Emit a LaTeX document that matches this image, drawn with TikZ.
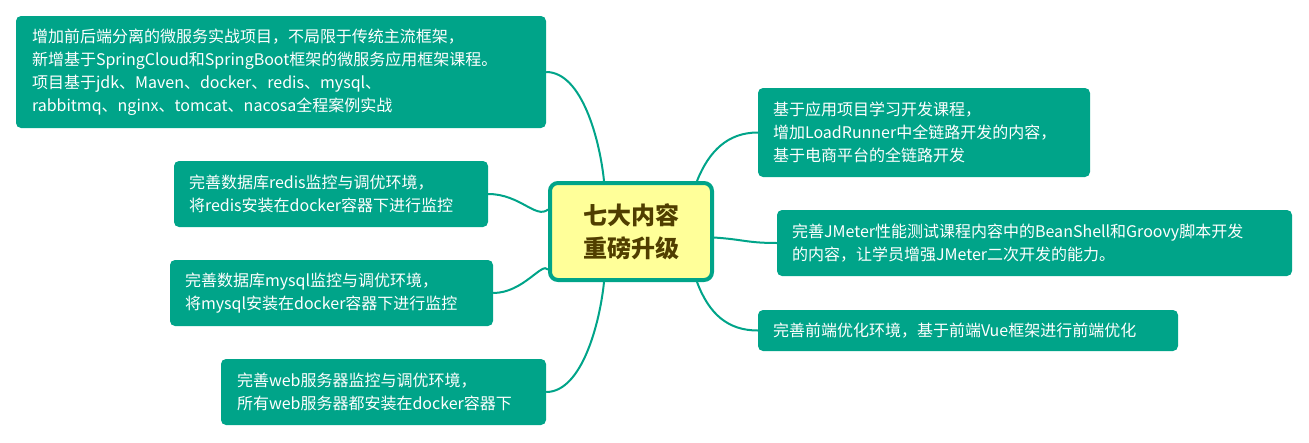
\documentclass[tikz,border=0pt]{standalone}
\usepackage{fontspec}
\newfontfamily\cjk{Noto Sans CJK SC}
\usetikzlibrary{calc,backgrounds}
\definecolor{tealbox}{RGB}{0,164,137}
\definecolor{centerfill}{RGB}{255,255,153}
\definecolor{centertext}{RGB}{80,62,0}
\tikzset{
  leaf/.style={fill=tealbox, rounded corners=5pt, text=white, align=left,
    inner ysep=0pt, font=\cjk\fontsize{16}{23}\selectfont},
  hub/.style={fill=centerfill, draw=tealbox, line width=4pt, rounded corners=8pt,
    text=centertext, align=center, minimum width=162pt, minimum height=97pt,
    font=\cjk\bfseries\fontsize{24}{33}\selectfont},
  link/.style={draw=tealbox, line width=2pt}
}
\begin{document}
\begin{tikzpicture}[x=1pt,y=-1pt]
\useasboundingbox (0,0) rectangle (1309,442);
\node[hub] (c) at (631,231.5) {七大内容\\重磅升级};
\node[leaf, inner xsep=16pt, text width=498pt, minimum height=112pt] (a) at (281,72)
  {增加前后端分离的微服务实战项目，不局限于传统主流框架，\\新增基于SpringCloud和SpringBoot框架的微服务应用框架课程。\\项目基于jdk、Maven、docker、redis、mysql、\\rabbitmq、nginx、tomcat、nacosa全程案例实战};
\node[leaf, inner xsep=15pt, text width=284pt, minimum height=66pt] (redis) at (331,194)
  {完善数据库redis监控与调优环境，\\将redis安装在docker容器下进行监控};
\node[leaf, inner xsep=15pt, text width=293pt, minimum height=66pt] (mysql) at (331.5,293)
  {完善数据库mysql监控与调优环境，\\将mysql安装在docker容器下进行监控};
\node[leaf, inner xsep=16pt, text width=293pt, minimum height=66pt] (web) at (383.5,392)
  {完善web服务器监控与调优环境，\\所有web服务器都安装在docker容器下};
\node[leaf, inner xsep=15pt, text width=302pt, minimum height=89pt] (r1) at (924,132.5)
  {基于应用项目学习开发课程，\\增加LoadRunner中全链路开发的内容，\\基于电商平台的全链路开发};
\node[leaf, inner xsep=15pt, text width=485pt, minimum height=66pt] (jm) at (1034.5,243)
  {完善JMeter性能测试课程内容中的BeanShell和Groovy脚本开发\\的内容，让学员增强JMeter二次开发的能力。};
\node[leaf, inner xsep=15pt, text width=390pt, minimum height=41pt] (r3) at (968,330.5)
  {完善前端优化环境，基于前端Vue框架进行前端优化};
\begin{scope}[on background layer]
\draw[link] (a.east) .. controls ($(a.east)+(36,0)$) and ($(c.north)+(-31,-40)$) .. ($(c.north)+(-27,0)$);
\draw[link] ($(c.north)+(66,0)$) .. controls ($(c.north)+(78,-30)$) and ($(r1.west)+(-30,0)$) .. (r1.west);
\draw[link] ($(c.east)+(0,6)$) .. controls ($(c.east)+(30,8)$) and ($(jm.west)+(-30,0)$) .. (jm.west);
\draw[link] ($(c.south)+(66,0)$) .. controls ($(c.south)+(78,32)$) and ($(r3.west)+(-30,0)$) .. (r3.west);
\draw[link] (redis.east) .. controls ($(redis.east)+(32,0)$) and ($(c.west)+(-12,-12)$) .. ($(c.west)+(0,-22)$);
\draw[link] (mysql.east) .. controls ($(mysql.east)+(30,0)$) and ($(c.west)+(-6,30)$) .. ($(c.west)+(0,38)$);
\draw[link] (web.east) .. controls ($(web.east)+(36,0)$) and ($(c.south)+(-31,40)$) .. ($(c.south)+(-27,0)$);
\end{scope}
\end{tikzpicture}
\end{document}
